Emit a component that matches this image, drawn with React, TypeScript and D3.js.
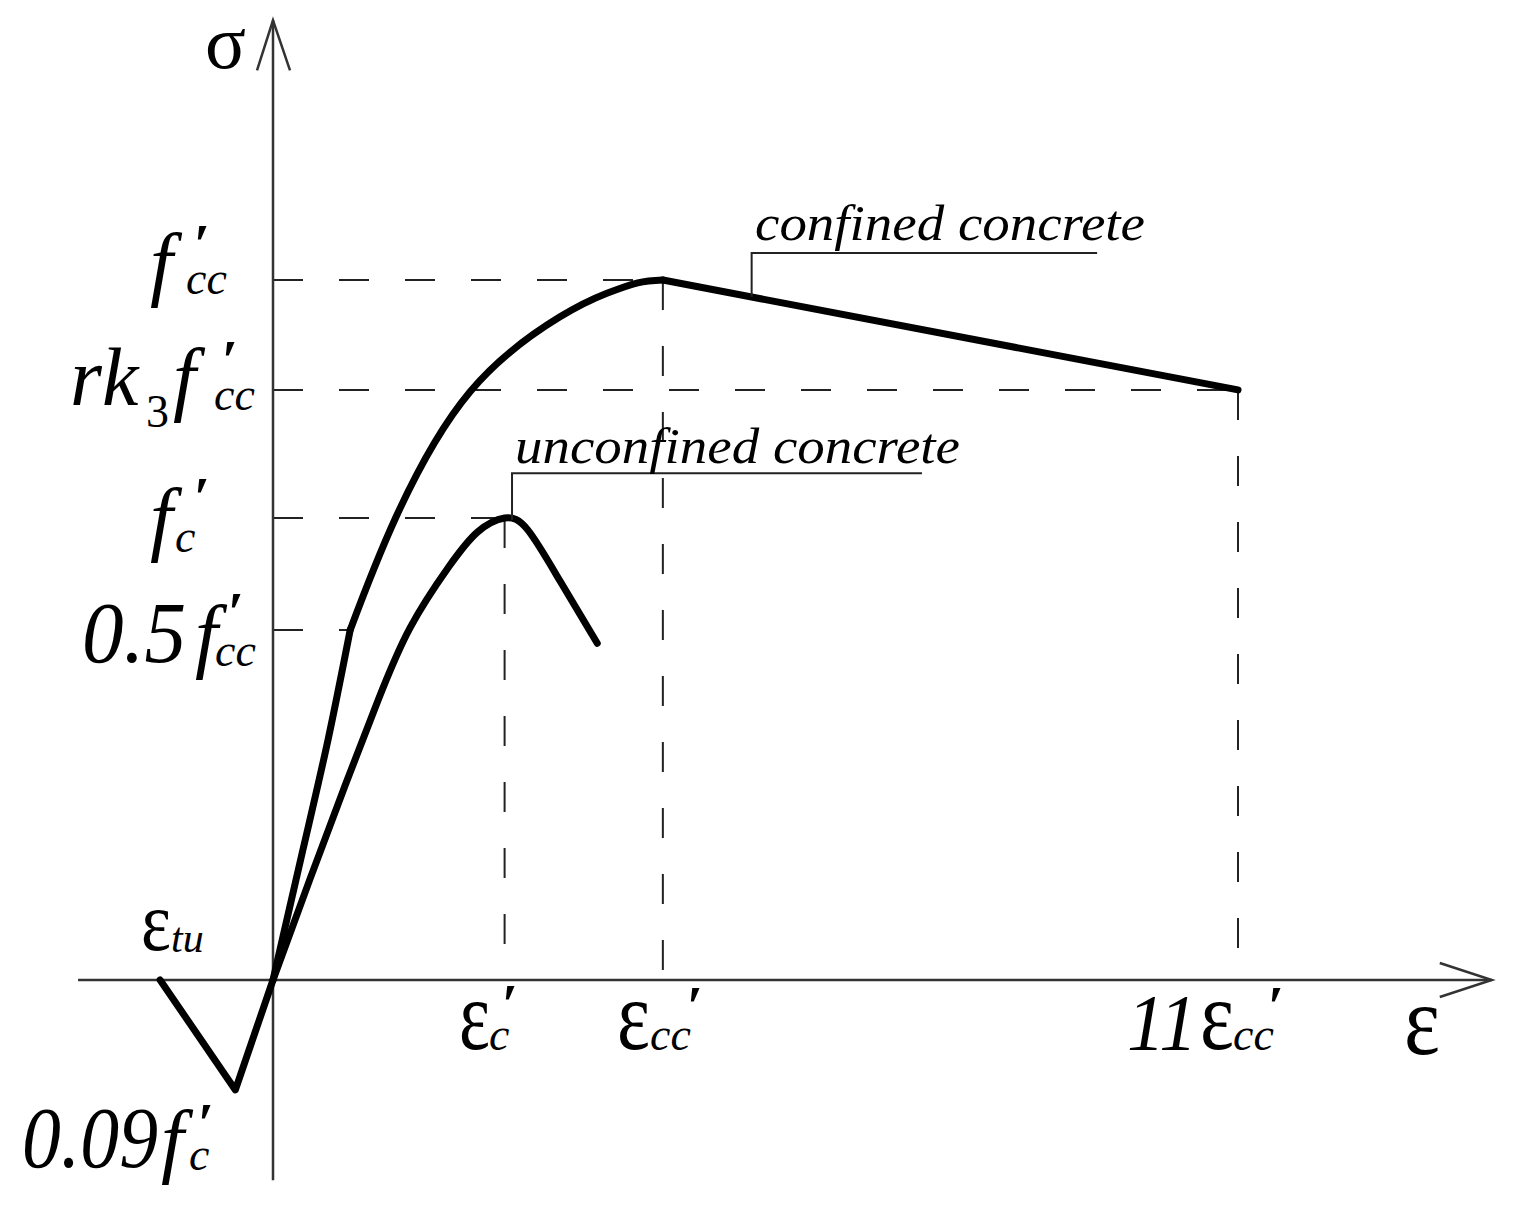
import * as d3 from 'd3'
import React from 'react'

// schematic stress-strain units: strain 1.0 = 11 eps'cc, stress 1.0 = f'cc
const confinedInitial: [number, number][] = [
    [0, 0],
    [0.031, 0.186],
    [0.057, 0.343],
    [0.08, 0.5],
]
const confinedRise: [number, number][] = [
    [0.08, 0.5],
    [0.127, 0.66],
    [0.204, 0.84],
    [0.297, 0.947],
    [0.346, 0.981],
    [0.378, 0.996],
    [0.404, 1.0],
]
const confinedFall: [number, number][] = [
    [0.404, 1.0],
    [1.0, 0.843],
]
const unconfined: [number, number][] = [
    [0, 0],
    [0.038, 0.143],
    [0.075, 0.279],
    [0.109, 0.4],
    [0.142, 0.503],
    [0.182, 0.59],
    [0.212, 0.64],
    [0.24, 0.66],
    [0.264, 0.643],
    [0.297, 0.571],
    [0.336, 0.481],
]
const tension: [number, number][] = [
    [-0.117, 0],
    [-0.039, -0.157],
    [0, 0],
]
// horizontal guides: [stress level, strain where it meets the curve]
const hGuides: [number, number][] = [
    [1.0, 0.404],
    [0.843, 1.0],
    [0.66, 0.24],
    [0.5, 0.08],
]
// vertical guides: [strain, stress at top]
const vGuides: [number, number][] = [
    [0.24, 0.66],
    [0.404, 1.0],
    [1.0, 0.843],
]
const xExtent = [-0.202, 1.263]
const yExtent = [-0.286, 1.371]

const W = 1514
const H = 1215

const x = d3.scaleLinear().domain([0, 1]).range([273, 1238])
const y = d3.scaleLinear().domain([0, 1]).range([980, 280])

const smooth = d3
    .line<[number, number]>()
    .x((d) => x(d[0]))
    .y((d) => y(d[1]))
    .curve(d3.curveNatural)
const straight = d3
    .line<[number, number]>()
    .x((d) => x(d[0]))
    .y((d) => y(d[1]))

const FONT = '"Liberation Serif", "Times New Roman", serif'

type Part = { t: string; x: number; y: number; s: number; it?: boolean; b?: boolean; len?: number }

// one text element, pieces placed absolutely (base, prime, subscript)
const Label = ({ parts }: { parts: Part[] }) => (
    <text>
        {parts.map((p, i) => (
            <tspan
                key={i}
                x={p.x}
                y={p.y}
                fontSize={p.s}
                fontStyle={p.it === false ? 'normal' : 'italic'}
                fontWeight={p.b ? 'bold' : 'normal'}
                textLength={p.len}
                lengthAdjust={p.len ? 'spacingAndGlyphs' : undefined}
            >
                {p.t}
            </tspan>
        ))}
    </text>
)

const P = '′'

const App = (): JSX.Element => {
    const x0 = x(0)
    const y0 = y(0)
    const curve = {
        fill: 'none',
        stroke: '#000',
        strokeWidth: 7,
        strokeLinecap: 'round' as const,
        strokeLinejoin: 'round' as const,
    }
    const dash = { stroke: '#222', strokeWidth: 2, strokeDasharray: '30,36' }
    const xEnd = x(xExtent[1])
    const yTop = y(yExtent[1])

    return (
        <svg
            width={W}
            height={H}
            style={{ position: 'absolute', left: 0, top: 0, background: '#fff' }}
            fontFamily={FONT}
        >
            {/* dashed guides */}
            {hGuides.map(([v, u]) => (
                <line key={`h${v}`} x1={x0} y1={y(v)} x2={x(u)} y2={y(v)} {...dash} />
            ))}
            {vGuides.map(([u, v]) => (
                <line key={`v${u}`} x1={x(u)} y1={y(v)} x2={x(u)} y2={y0} {...dash} />
            ))}

            {/* axes */}
            <g stroke="#333" strokeWidth={2.5} fill="none">
                <line x1={x(xExtent[0])} y1={y0} x2={xEnd} y2={y0} />
                <line x1={x0} y1={y(yExtent[0])} x2={x0} y2={yTop} />
                <polyline points={`${xEnd - 52},${y0 - 17} ${xEnd},${y0} ${xEnd - 52},${y0 + 17}`} />
                <polyline points={`${x0 - 16},${yTop + 50} ${x0},${yTop} ${x0 + 17},${yTop + 50}`} />
            </g>

            {/* curves */}
            <path d={smooth(confinedInitial) || ''} {...curve} />
            <path d={smooth(confinedRise) || ''} {...curve} />
            <path d={straight(confinedFall) || ''} {...curve} />
            <path d={smooth(unconfined) || ''} {...curve} />
            <path d={straight(tension) || ''} {...curve} />

            {/* leaders */}
            <g stroke="#222" strokeWidth={2} fill="none">
                <polyline points={`${x(0.496)},${y(0.976)} ${x(0.496)},${y(1.0386)} ${x(0.854)},${y(1.0386)}`} />
                <polyline points={`${x(0.2477)},${y(0.657)} ${x(0.2477)},${y(0.724)} ${x(0.6725)},${y(0.724)}`} />
            </g>
            <Label parts={[{ t: 'confined concrete', x: 755, y: 240, s: 50, len: 390 }]} />
            <Label parts={[{ t: 'unconfined concrete', x: 515, y: 463, s: 50, len: 445 }]} />

            {/* axis titles */}
            <Label parts={[{ t: 'σ', x: 205, y: 68, s: 76, it: false }]} />
            <Label parts={[{ t: 'ε', x: 1404, y: 1054, s: 100, it: false, len: 36 }]} />

            {/* stress labels */}
            <Label
                parts={[
                    { t: 'f', x: 150, y: 290, s: 82 },
                    { t: P, x: 194, y: 264, s: 58, it: false, b: true },
                    { t: 'cc', x: 186, y: 294, s: 46 },
                ]}
            />
            <Label
                parts={[
                    { t: 'rk', x: 70, y: 405, s: 82 },
                    { t: '3', x: 146, y: 427, s: 46, it: false },
                    { t: 'f', x: 173, y: 405, s: 82 },
                    { t: P, x: 222, y: 380, s: 58, it: false, b: true },
                    { t: 'cc', x: 214, y: 410, s: 46 },
                ]}
            />
            <Label
                parts={[
                    { t: 'f', x: 150, y: 545, s: 82 },
                    { t: P, x: 194, y: 517, s: 58, it: false, b: true },
                    { t: 'c', x: 175, y: 552, s: 46 },
                ]}
            />
            <Label
                parts={[
                    { t: '0.5', x: 82, y: 662, s: 86, len: 104 },
                    { t: 'f', x: 195, y: 662, s: 82 },
                    { t: P, x: 228, y: 632, s: 58, it: false, b: true },
                    { t: 'cc', x: 215, y: 666, s: 46 },
                ]}
            />
            <Label
                parts={[
                    { t: '0.09', x: 22, y: 1167, s: 86, len: 136 },
                    { t: 'f', x: 161, y: 1167, s: 82 },
                    { t: P, x: 198, y: 1143, s: 58, it: false, b: true },
                    { t: 'c', x: 189, y: 1170, s: 46 },
                ]}
            />

            {/* strain labels */}
            <Label
                parts={[
                    { t: 'ε', x: 141, y: 950, s: 84, it: false, len: 30 },
                    { t: 'tu', x: 171, y: 952, s: 42 },
                ]}
            />
            <Label
                parts={[
                    { t: 'ε', x: 459, y: 1049, s: 100, it: false, len: 31 },
                    { t: P, x: 502, y: 1024, s: 58, it: false, b: true },
                    { t: 'c', x: 489, y: 1050, s: 46 },
                ]}
            />
            <Label
                parts={[
                    { t: 'ε', x: 617, y: 1049, s: 100, it: false, len: 33 },
                    { t: 'cc', x: 650, y: 1050, s: 46 },
                    { t: P, x: 687, y: 1026, s: 58, it: false, b: true },
                ]}
            />
            <Label
                parts={[
                    { t: '11', x: 1127, y: 1050, s: 80, len: 70 },
                    { t: 'ε', x: 1200, y: 1049, s: 100, it: false, len: 34 },
                    { t: 'cc', x: 1233, y: 1050, s: 46 },
                    { t: P, x: 1268, y: 1026, s: 58, it: false, b: true },
                ]}
            />
        </svg>
    )
}

export default App
